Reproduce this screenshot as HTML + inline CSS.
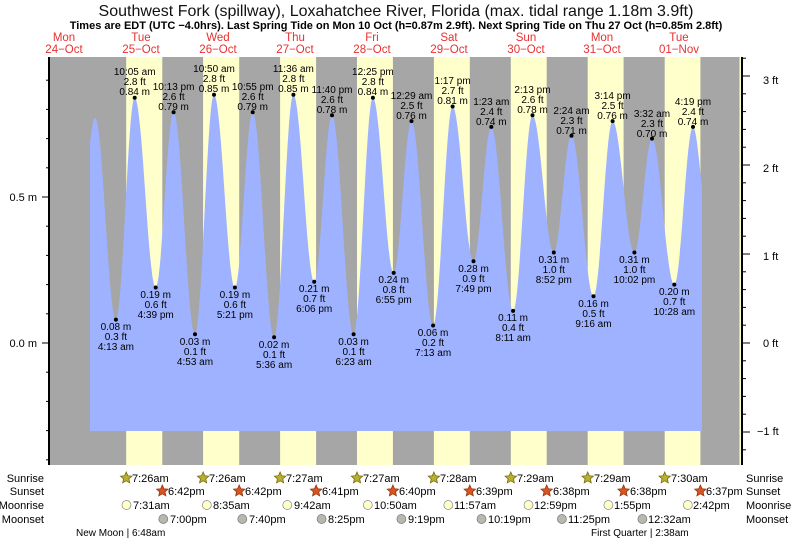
<!DOCTYPE html>
<html><head><meta charset="utf-8"><style>
html,body{margin:0;padding:0;background:#fff;}
svg{display:block;font-family:"Liberation Sans",sans-serif;}
</style></head><body>
<svg width="793" height="539" viewBox="0 0 793 539" xmlns="http://www.w3.org/2000/svg" xmlns:xlink="http://www.w3.org/1999/xlink">
<defs>
<polygon id="st" points="0,-6 1.65,-2.27 5.71,-1.85 2.66,0.87 3.53,4.85 0,2.8 -3.53,4.85 -2.66,0.87 -5.71,-1.85 -1.65,-2.27" stroke-width="0.8"/>
</defs>
<rect x="0" y="0" width="793" height="539" fill="#fff"/>
<text x="396" y="16" font-size="16" text-anchor="middle" fill="#111">Southwest Fork (spillway), Loxahatchee River, Florida (max. tidal range 1.18m 3.9ft)</text>
<text x="396" y="29" font-size="11" font-weight="bold" text-anchor="middle" fill="#000">Times are EDT (UTC −4.0hrs). Last Spring Tide on Mon 10 Oct (h=0.87m 2.9ft). Next Spring Tide on Thu 27 Oct (h=0.85m 2.8ft)</text>
<g font-size="11.5" fill="#e83030" text-anchor="middle">
<text x="64" y="41">Mon</text><text x="64" y="53">24−Oct</text>
<text x="141" y="41">Tue</text><text x="141" y="53">25−Oct</text>
<text x="218" y="41">Wed</text><text x="218" y="53">26−Oct</text>
<text x="295" y="41">Thu</text><text x="295" y="53">27−Oct</text>
<text x="372" y="41">Fri</text><text x="372" y="53">28−Oct</text>
<text x="449" y="41">Sat</text><text x="449" y="53">29−Oct</text>
<text x="526" y="41">Sun</text><text x="526" y="53">30−Oct</text>
<text x="602" y="41">Mon</text><text x="602" y="53">31−Oct</text>
<text x="679" y="41">Tue</text><text x="679" y="53">01−Nov</text>
</g>
<rect x="49" y="57" width="693" height="408" fill="#a6a6a6"/>
<g fill="#ffffcc">
<rect x="126.2" y="57" width="36.1" height="408"/>
<rect x="203.1" y="57" width="36.1" height="408"/>
<rect x="280.1" y="57" width="36" height="408"/>
<rect x="357.0" y="57" width="35.9" height="408"/>
<rect x="433.9" y="57" width="35.9" height="408"/>
<rect x="510.8" y="57" width="35.9" height="408"/>
<rect x="587.7" y="57" width="35.9" height="408"/>
<rect x="664.7" y="57" width="35.7" height="408"/>
<rect x="739.5" y="57" width="2.5" height="408"/>
</g>
<path fill="#9fb2ff" d="M90,431 L90,144 C92,125 93.5,118 95.2,118
C102.7,118 108.4,319.6 115.9,319.6
C122.8,319.6 127.9,97.7 134.7,97.7
C142.4,97.7 148.1,287.5 155.7,287.5
C162.2,287.5 167.1,112.3 173.6,112.3
C181.4,112.3 187.2,334.2 195,334.2
C201.9,334.2 207.1,94.8 214,94.8
C221.6,94.8 227.3,287.5 234.9,287.5
C241.4,287.5 246.2,112.3 252.7,112.3
C260.5,112.3 266.3,337.2 274.1,337.2
C281.1,337.2 286.4,94.8 293.4,94.8
C301,94.8 306.6,281.7 314.2,281.7
C320.7,281.7 325.5,115.2 332,115.2
C339.9,115.2 345.7,334.2 353.6,334.2
C360.6,334.2 365.9,97.7 372.9,97.7
C380.5,97.7 386.1,272.9 393.7,272.9
C400.2,272.9 405,121.1 411.5,121.1
C419.4,121.1 425.2,325.5 433.1,325.5
C440.2,325.5 445.5,106.5 452.6,106.5
C460.2,106.5 465.9,261.2 473.5,261.2
C480,261.2 484.8,126.9 491.3,126.9
C499.2,126.9 505.2,310.9 513.1,310.9
C520.2,310.9 525.4,115.2 532.5,115.2
C540.3,115.2 546,252.5 553.8,252.5
C560.2,252.5 565,135.7 571.5,135.7
C579.5,135.7 585.5,296.3 593.5,296.3
C600.5,296.3 605.6,121.1 612.6,121.1
C620.5,121.1 626.5,252.5 634.4,252.5
C640.8,252.5 645.6,138.6 652,138.6
C660.1,138.6 666.2,284.6 674.3,284.6
C681.1,284.6 686.2,126.9 693,126.9
C696.5,126.9 700,170 702,187.3 L702,431 Z"/>
<line x1="49" y1="57" x2="49" y2="465" stroke="#000" stroke-width="2"/>
<line x1="742" y1="57" x2="742" y2="465" stroke="#000" stroke-width="2"/>
<g stroke="#000" stroke-width="1">
<line x1="46" y1="459.8" x2="49" y2="459.8"/><line x1="46" y1="430.6" x2="49" y2="430.6"/><line x1="46" y1="401.4" x2="49" y2="401.4"/><line x1="46" y1="372.2" x2="49" y2="372.2"/><line x1="42" y1="343" x2="49" y2="343"/><line x1="46" y1="313.8" x2="49" y2="313.8"/><line x1="46" y1="284.6" x2="49" y2="284.6"/><line x1="46" y1="255.4" x2="49" y2="255.4"/><line x1="46" y1="226.2" x2="49" y2="226.2"/><line x1="42" y1="197" x2="49" y2="197"/><line x1="46" y1="167.8" x2="49" y2="167.8"/><line x1="46" y1="138.6" x2="49" y2="138.6"/><line x1="46" y1="109.4" x2="49" y2="109.4"/><line x1="46" y1="80.2" x2="49" y2="80.2"/>
<line x1="742" y1="449.8" x2="746" y2="449.8"/><line x1="742" y1="432" x2="750" y2="432"/><line x1="742" y1="414.2" x2="746" y2="414.2"/><line x1="742" y1="396.4" x2="746" y2="396.4"/><line x1="742" y1="378.6" x2="746" y2="378.6"/><line x1="742" y1="360.8" x2="746" y2="360.8"/><line x1="742" y1="343" x2="750" y2="343"/><line x1="742" y1="325.2" x2="746" y2="325.2"/><line x1="742" y1="307.4" x2="746" y2="307.4"/><line x1="742" y1="289.6" x2="746" y2="289.6"/><line x1="742" y1="271.8" x2="746" y2="271.8"/><line x1="742" y1="254" x2="750" y2="254"/><line x1="742" y1="236.2" x2="746" y2="236.2"/><line x1="742" y1="218.4" x2="746" y2="218.4"/><line x1="742" y1="200.6" x2="746" y2="200.6"/><line x1="742" y1="182.8" x2="746" y2="182.8"/><line x1="742" y1="165" x2="750" y2="165"/><line x1="742" y1="147.2" x2="746" y2="147.2"/><line x1="742" y1="129.4" x2="746" y2="129.4"/><line x1="742" y1="111.6" x2="746" y2="111.6"/><line x1="742" y1="93.8" x2="746" y2="93.8"/><line x1="742" y1="76" x2="750" y2="76"/><line x1="742" y1="58.2" x2="746" y2="58.2"/>
</g>
<g font-size="11" fill="#000">
<text x="37" y="201" text-anchor="end">0.5 m</text>
<text x="37" y="347" text-anchor="end">0.0 m</text>
<text x="763" y="84">3 ft</text>
<text x="763" y="172">2 ft</text>
<text x="763" y="260">1 ft</text>
<text x="763" y="347">0 ft</text>
<text x="757" y="435">−1 ft</text>
</g>
<g fill="#000">
<circle cx="115.9" cy="319.6" r="2"/><circle cx="134.7" cy="97.7" r="2"/><circle cx="155.7" cy="287.5" r="2"/><circle cx="173.6" cy="112.3" r="2"/><circle cx="195" cy="334.2" r="2"/><circle cx="214" cy="94.8" r="2"/><circle cx="234.9" cy="287.5" r="2"/><circle cx="252.7" cy="112.3" r="2"/><circle cx="274.1" cy="337.2" r="2"/><circle cx="293.4" cy="94.8" r="2"/><circle cx="314.2" cy="281.7" r="2"/><circle cx="332" cy="115.2" r="2"/><circle cx="353.6" cy="334.2" r="2"/><circle cx="372.9" cy="97.7" r="2"/><circle cx="393.7" cy="272.9" r="2"/><circle cx="411.5" cy="121.1" r="2"/><circle cx="433.1" cy="325.5" r="2"/><circle cx="452.6" cy="106.5" r="2"/><circle cx="473.5" cy="261.2" r="2"/><circle cx="491.3" cy="126.9" r="2"/><circle cx="513.1" cy="310.9" r="2"/><circle cx="532.5" cy="115.2" r="2"/><circle cx="553.8" cy="252.5" r="2"/><circle cx="571.5" cy="135.7" r="2"/><circle cx="593.5" cy="296.3" r="2"/><circle cx="612.6" cy="121.1" r="2"/><circle cx="634.4" cy="252.5" r="2"/><circle cx="652" cy="138.6" r="2"/><circle cx="674.3" cy="284.6" r="2"/><circle cx="693" cy="126.9" r="2"/>
</g>
<g font-size="10" fill="#000" text-anchor="middle">
<text x="134.7" y="75">10:05 am</text><text x="134.7" y="85">2.8 ft</text><text x="134.7" y="95">0.84 m</text>
<text x="173.6" y="90">10:13 pm</text><text x="173.6" y="100">2.6 ft</text><text x="173.6" y="110">0.79 m</text>
<text x="214" y="72">10:50 am</text><text x="214" y="82">2.8 ft</text><text x="214" y="92">0.85 m</text>
<text x="252.7" y="90">10:55 pm</text><text x="252.7" y="100">2.6 ft</text><text x="252.7" y="110">0.79 m</text>
<text x="293.4" y="72">11:36 am</text><text x="293.4" y="82">2.8 ft</text><text x="293.4" y="92">0.85 m</text>
<text x="332" y="93">11:40 pm</text><text x="332" y="103">2.6 ft</text><text x="332" y="113">0.78 m</text>
<text x="372.9" y="75">12:25 pm</text><text x="372.9" y="85">2.8 ft</text><text x="372.9" y="95">0.84 m</text>
<text x="411.5" y="99">12:29 am</text><text x="411.5" y="109">2.5 ft</text><text x="411.5" y="119">0.76 m</text>
<text x="452.6" y="84">1:17 pm</text><text x="452.6" y="94">2.7 ft</text><text x="452.6" y="104">0.81 m</text>
<text x="491.3" y="105">1:23 am</text><text x="491.3" y="115">2.4 ft</text><text x="491.3" y="125">0.74 m</text>
<text x="532.5" y="93">2:13 pm</text><text x="532.5" y="103">2.6 ft</text><text x="532.5" y="113">0.78 m</text>
<text x="571.5" y="114">2:24 am</text><text x="571.5" y="124">2.3 ft</text><text x="571.5" y="134">0.71 m</text>
<text x="612.6" y="99">3:14 pm</text><text x="612.6" y="109">2.5 ft</text><text x="612.6" y="119">0.76 m</text>
<text x="652" y="117">3:32 am</text><text x="652" y="127">2.3 ft</text><text x="652" y="137">0.70 m</text>
<text x="693" y="105">4:19 pm</text><text x="693" y="115">2.4 ft</text><text x="693" y="125">0.74 m</text>
<text x="115.9" y="330">0.08 m</text><text x="115.9" y="340">0.3 ft</text><text x="115.9" y="350">4:13 am</text>
<text x="155.7" y="298">0.19 m</text><text x="155.7" y="308">0.6 ft</text><text x="155.7" y="318">4:39 pm</text>
<text x="195" y="345">0.03 m</text><text x="195" y="355">0.1 ft</text><text x="195" y="365">4:53 am</text>
<text x="234.9" y="298">0.19 m</text><text x="234.9" y="308">0.6 ft</text><text x="234.9" y="318">5:21 pm</text>
<text x="274.1" y="348">0.02 m</text><text x="274.1" y="358">0.1 ft</text><text x="274.1" y="368">5:36 am</text>
<text x="314.2" y="292">0.21 m</text><text x="314.2" y="302">0.7 ft</text><text x="314.2" y="312">6:06 pm</text>
<text x="353.6" y="345">0.03 m</text><text x="353.6" y="355">0.1 ft</text><text x="353.6" y="365">6:23 am</text>
<text x="393.7" y="283">0.24 m</text><text x="393.7" y="293">0.8 ft</text><text x="393.7" y="303">6:55 pm</text>
<text x="433.1" y="336">0.06 m</text><text x="433.1" y="346">0.2 ft</text><text x="433.1" y="356">7:13 am</text>
<text x="473.5" y="272">0.28 m</text><text x="473.5" y="282">0.9 ft</text><text x="473.5" y="292">7:49 pm</text>
<text x="513.1" y="321">0.11 m</text><text x="513.1" y="331">0.4 ft</text><text x="513.1" y="341">8:11 am</text>
<text x="553.8" y="263">0.31 m</text><text x="553.8" y="273">1.0 ft</text><text x="553.8" y="283">8:52 pm</text>
<text x="593.5" y="307">0.16 m</text><text x="593.5" y="317">0.5 ft</text><text x="593.5" y="327">9:16 am</text>
<text x="634.4" y="263">0.31 m</text><text x="634.4" y="273">1.0 ft</text><text x="634.4" y="283">10:02 pm</text>
<text x="674.3" y="295">0.20 m</text><text x="674.3" y="305">0.7 ft</text><text x="674.3" y="315">10:28 am</text>
</g>
<g font-size="11" fill="#000">
<text x="44" y="482" text-anchor="end">Sunrise</text>
<text x="44" y="495" text-anchor="end">Sunset</text>
<text x="44" y="509" text-anchor="end">Moonrise</text>
<text x="44" y="523" text-anchor="end">Moonset</text>
<text x="746" y="482">Sunrise</text>
<text x="746" y="495">Sunset</text>
<text x="746" y="509">Moonrise</text>
<text x="746" y="523">Moonset</text>
</g>
<g fill="#b8b030" stroke="#776a10">
<use xlink:href="#st" href="#st" x="126.2" y="478"/><use xlink:href="#st" href="#st" x="203.1" y="478"/><use xlink:href="#st" href="#st" x="280.1" y="478"/><use xlink:href="#st" href="#st" x="357" y="478"/><use xlink:href="#st" href="#st" x="433.9" y="478"/><use xlink:href="#st" href="#st" x="510.8" y="478"/><use xlink:href="#st" href="#st" x="587.7" y="478"/><use xlink:href="#st" href="#st" x="664.7" y="478"/>
</g>
<g fill="#e05020" stroke="#8a3a10">
<use xlink:href="#st" href="#st" x="162.3" y="491"/><use xlink:href="#st" href="#st" x="239.2" y="491"/><use xlink:href="#st" href="#st" x="316.1" y="491"/><use xlink:href="#st" href="#st" x="392.9" y="491"/><use xlink:href="#st" href="#st" x="469.8" y="491"/><use xlink:href="#st" href="#st" x="546.7" y="491"/><use xlink:href="#st" href="#st" x="623.6" y="491"/><use xlink:href="#st" href="#st" x="700.4" y="491"/>
</g>
<g fill="#ffffcc" stroke="#888" stroke-width="0.7">
<circle cx="126.5" cy="505" r="4.5"/><circle cx="206.8" cy="505" r="4.5"/><circle cx="287.3" cy="505" r="4.5"/><circle cx="367.8" cy="505" r="4.5"/><circle cx="448.3" cy="505" r="4.5"/><circle cx="528.5" cy="505" r="4.5"/><circle cx="608.4" cy="505" r="4.5"/><circle cx="687.8" cy="505" r="4.5"/>
</g>
<g fill="#b8b8b0" stroke="#777" stroke-width="0.7">
<circle cx="163.3" cy="519" r="4.5"/><circle cx="242.3" cy="519" r="4.5"/><circle cx="321.6" cy="519" r="4.5"/><circle cx="401.4" cy="519" r="4.5"/><circle cx="481.5" cy="519" r="4.5"/><circle cx="561.9" cy="519" r="4.5"/><circle cx="642.4" cy="519" r="4.5"/>
</g>
<g font-size="11" fill="#000">
<text x="132" y="482">7:26am</text><text x="209" y="482">7:26am</text><text x="286" y="482">7:27am</text><text x="363" y="482">7:27am</text>
<text x="440" y="482">7:28am</text><text x="517" y="482">7:29am</text><text x="594" y="482">7:29am</text><text x="671" y="482">7:30am</text>
<text x="168" y="495">6:42pm</text><text x="245" y="495">6:42pm</text><text x="322" y="495">6:41pm</text><text x="399" y="495">6:40pm</text>
<text x="476" y="495">6:39pm</text><text x="553" y="495">6:38pm</text><text x="630" y="495">6:38pm</text><text x="706" y="495">6:37pm</text>
<text x="133" y="509">7:31am</text><text x="213" y="509">8:35am</text><text x="294" y="509">9:42am</text><text x="374" y="509">10:50am</text>
<text x="454" y="509">11:57am</text><text x="534" y="509">12:59pm</text><text x="614" y="509">1:55pm</text><text x="693" y="509">2:42pm</text>
<text x="170" y="523">7:00pm</text><text x="249" y="523">7:40pm</text><text x="328" y="523">8:25pm</text><text x="408" y="523">9:19pm</text>
<text x="488" y="523">10:19pm</text><text x="568" y="523">11:25pm</text><text x="648" y="523">12:32am</text>
<text x="76" y="536" font-size="10">New Moon | 6:48am</text>
<text x="591" y="536" font-size="10">First Quarter | 2:38am</text>
</g>
</svg>
</body></html>
